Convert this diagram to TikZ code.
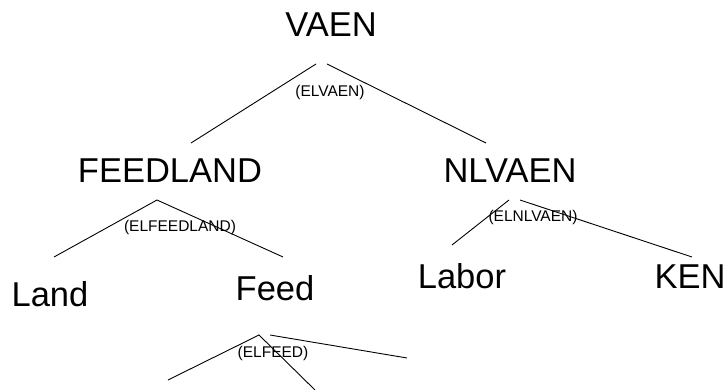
\documentclass[tikz,border=0pt]{standalone}
\usepackage{fontspec}
\setmainfont{Liberation Sans}
\usetikzlibrary{positioning}
\begin{document}
\begin{tikzpicture}[x=1pt, y=-1pt,
  var/.style={inner sep=0pt, anchor=base, font=\fontsize{34.5}{40}\selectfont},
  elas/.style={inner sep=0pt, anchor=base, font=\fontsize{15.5}{18}\selectfont},
  branch/.style={line width=0.9pt}]
  \useasboundingbox (0,0) rectangle (726,390);

  % variables
  \node[var] (vaen) at (331,37) {VAEN};
  \node[var] (feedland) at (170,183) {FEEDLAND};
  \node[var] (nlvaen) at (510,183) {NLVAEN};
  \node[var] (land) at (50,307) {Land};
  \node[var] (feed) at (275,301) {Feed};
  \node[var] (labor) at (462,289) {Labor};
  \node[var] (ken) at (690,289) {KEN};

  % elasticities
  \node[elas] (elvaen) at (330,97) {(ELVAEN)};
  \node[elas] (elfeedland) at (180,232) {(ELFEEDLAND)};
  \node[elas] (elnlvaen) at (533,222) {(ELNLVAEN)};
  \node[elas] (elfeed) at (273,357) {(ELFEED)};

  % branch points
  \coordinate (vaenL) at (316,64);
  \coordinate (vaenR) at (327,64);
  \coordinate (feedlandTop) at (191,143);
  \coordinate (nlvaenTop) at (486,143);
  \coordinate (feedlandV) at (157,200);
  \coordinate (landTop) at (54,257);
  \coordinate (feedTop) at (283,257);
  \coordinate (nlvaenL) at (509,200);
  \coordinate (nlvaenR) at (520,200);
  \coordinate (laborTop) at (452,245);
  \coordinate (kenTop) at (692,257);
  \coordinate (feedL) at (259,335);
  \coordinate (feedR) at (270,335);
  \coordinate (feedA) at (168,380);
  \coordinate (feedB) at (315,390);
  \coordinate (feedC) at (407,358);

  % branches
  \draw[branch] (vaenL) -- (feedlandTop);
  \draw[branch] (vaenR) -- (nlvaenTop);
  \draw[branch] (landTop) -- (feedlandV) -- (feedTop);
  \draw[branch] (nlvaenL) -- (laborTop);
  \draw[branch] (nlvaenR) -- (kenTop);
  \draw[branch] (feedA) -- (feedL) -- (feedB);
  \draw[branch] (feedR) -- (feedC);
\end{tikzpicture}
\end{document}
